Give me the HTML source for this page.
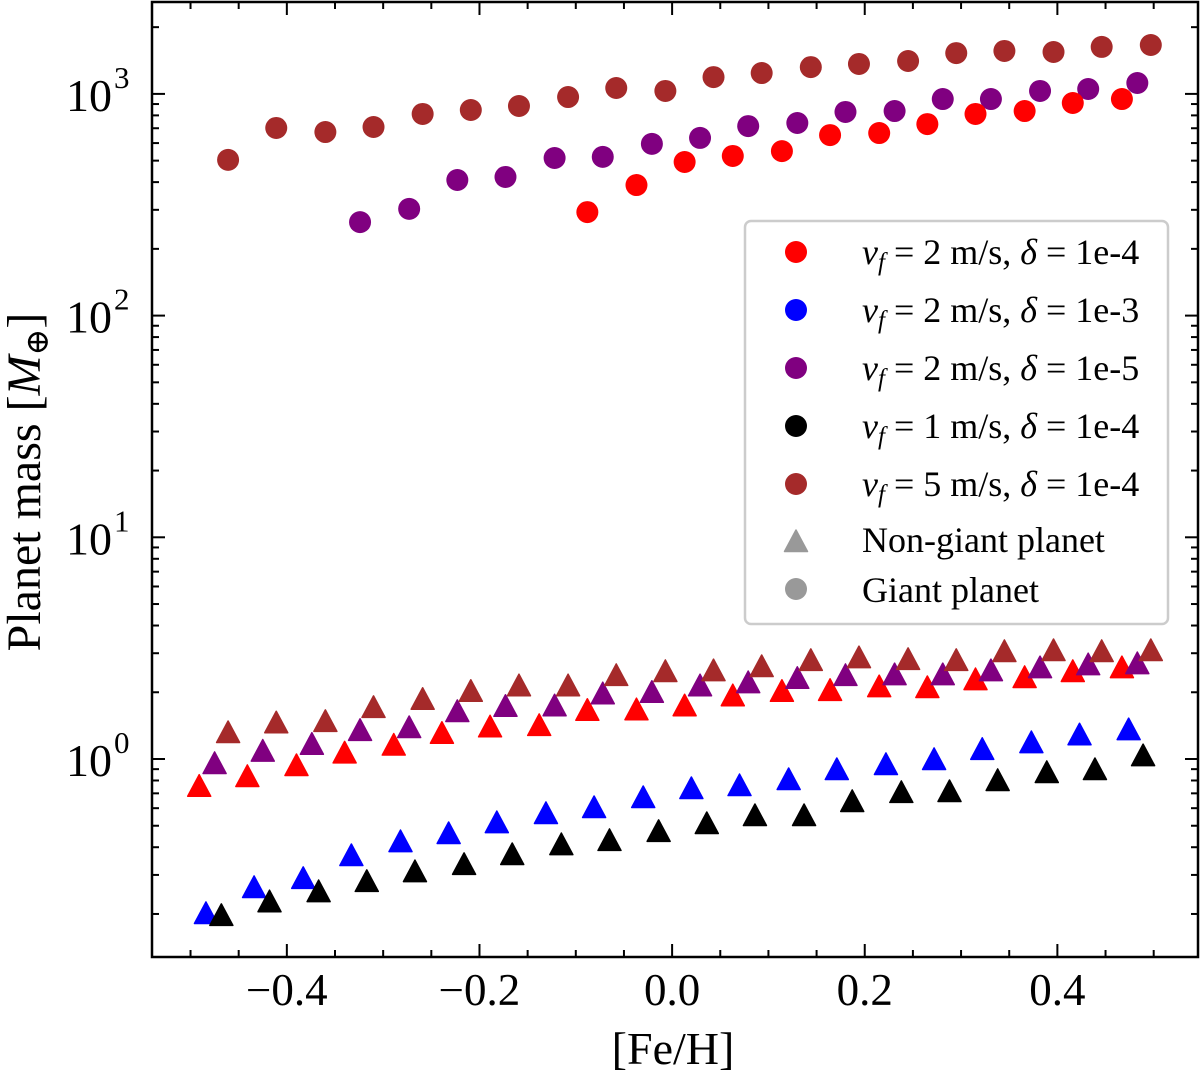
<!DOCTYPE html>
<html><head><meta charset="utf-8"><style>
html,body{margin:0;padding:0;background:#fff;}
svg{display:block;font-family:"Liberation Serif","DejaVu Serif",serif;}
</style></head><body>
<svg id="chart" width="1200" height="1075" viewBox="0 0 1200 1075" xmlns="http://www.w3.org/2000/svg">
<g id="marks"></g>
<g id="axes"></g>
<g id="legend"></g>
</svg>
<script>
const xTickValues = [-0.4, -0.2, 0.0, 0.2, 0.4];
const xTickLabels = ["\u22120.4", "\u22120.2", "0.0", "0.2", "0.4"];
const yTickExps = [0, 1, 2, 3];

const redTriX = [-0.491,-0.441,-0.390,-0.340,-0.289,-0.239,-0.189,-0.138,-0.088,-0.037,0.013,0.063,0.114,0.164,0.215,0.265,0.315,0.366,0.416,0.467];
const redTriY = [0.75,0.83,0.93,1.06,1.15,1.30,1.39,1.41,1.65,1.66,1.73,1.92,2.01,2.03,2.11,2.09,2.27,2.32,2.47,2.57];
const purpleTriX = [-0.475,-0.425,-0.374,-0.324,-0.273,-0.223,-0.173,-0.122,-0.072,-0.021,0.029,0.079,0.130,0.180,0.231,0.281,0.331,0.382,0.432,0.483];
const purpleTriY = [0.95,1.08,1.16,1.34,1.38,1.63,1.72,1.73,1.96,1.99,2.13,2.20,2.30,2.37,2.39,2.39,2.49,2.57,2.65,2.68];
const brownTriX = [-0.461,-0.411,-0.360,-0.310,-0.259,-0.209,-0.159,-0.108,-0.058,-0.007,0.043,0.093,0.144,0.194,0.245,0.295,0.345,0.396,0.446,0.497];
const brownTriY = [1.31,1.45,1.47,1.70,1.85,2.01,2.13,2.13,2.37,2.47,2.49,2.60,2.77,2.85,2.80,2.77,3.04,3.07,3.04,3.07];
const blueTriX = [-0.484,-0.434,-0.383,-0.333,-0.282,-0.232,-0.182,-0.131,-0.081,-0.030,0.020,0.070,0.121,0.171,0.222,0.272,0.322,0.373,0.423,0.474];
const blueTriY = [0.200,0.262,0.288,0.365,0.422,0.459,0.514,0.565,0.601,0.667,0.732,0.755,0.804,0.892,0.94,0.99,1.10,1.18,1.28,1.35];
const blackTriX = [-0.468,-0.418,-0.367,-0.317,-0.267,-0.216,-0.166,-0.115,-0.065,-0.014,0.036,0.086,0.137,0.187,0.238,0.288,0.338,0.389,0.439,0.489];
const blackTriY = [0.196,0.226,0.251,0.279,0.309,0.333,0.369,0.409,0.427,0.469,0.509,0.553,0.553,0.640,0.703,0.710,0.796,0.865,0.892,1.03];

const brownCircX = [-0.461,-0.411,-0.360,-0.310,-0.259,-0.209,-0.159,-0.108,-0.058,-0.007,0.043,0.093,0.144,0.194,0.245,0.295,0.345,0.396,0.446,0.497];
const brownCircY = [504,702,673,709,812,846,882,968,1063,1031,1191,1242,1321,1365,1407,1528,1562,1545,1629,1662];
const purpleCircX = [-0.324,-0.273,-0.223,-0.173,-0.122,-0.072,-0.021,0.029,0.079,0.130,0.180,0.231,0.281,0.331,0.382,0.432,0.483];
const purpleCircY = [264,303,409,422,514,520,595,633,716,739,829,837,948,948,1031,1052,1120];
const redCircX = [-0.088,-0.037,0.013,0.063,0.114,0.164,0.215,0.265,0.315,0.366,0.416,0.467];
const redCircY = [293,388,493,525,552,652,666,731,812,837,910,948];

const legendLabels = ["2 m/s, ","2 m/s, ","2 m/s, ","1 m/s, ","5 m/s, "];
const legendDeltas = ["1e-4","1e-3","1e-5","1e-4","1e-4"];

const L=152, R=1198, T=2, B=957;
const xMin=-0.54, xMax=0.546;
const yPerDec=221.7, yZeroPx=759;
function sx(v){return L+(v-xMin)/(xMax-xMin)*(R-L);}
function sy(v){return yZeroPx-Math.log10(v)*yPerDec;}
const NS="http://www.w3.org/2000/svg";
function mk(tag,attrs,parent){const e=document.createElementNS(NS,tag);for(const k in attrs)e.setAttribute(k,attrs[k]);parent.appendChild(e);return e;}
const marks=document.getElementById('marks');
const axes=document.getElementById('axes');
const legend=document.getElementById('legend');

function tri(cx,cy,col,parent){
  return mk('polygon',{points:`${cx},${cy-12} ${cx-11.5},${cy+9.5} ${cx+11.5},${cy+9.5}`,fill:col,stroke:col,'stroke-width':1.5,'stroke-linejoin':'round'},parent);
}
function drawTri(xs,ys,col,name){
  for(let i=0;i<xs.length;i++){
    const p=tri(sx(xs[i]),sy(ys[i]),col,marks);
    
    
  }
}
function drawCirc(xs,ys,col,name){
  for(let i=0;i<xs.length;i++){
    const c=mk('circle',{cx:sx(xs[i]),cy:sy(ys[i]),r:11,fill:col},marks);
    
    
  }
}
drawTri(redTriX,redTriY,'#ff0000','red-triangle-point');
drawTri(blueTriX,blueTriY,'#0000ff','blue-triangle-point');
drawTri(purpleTriX,purpleTriY,'#800080','purple-triangle-point');
drawTri(blackTriX,blackTriY,'#000000','black-triangle-point');
drawTri(brownTriX,brownTriY,'#a52a2a','brown-triangle-point');
drawCirc(brownCircX,brownCircY,'#a52a2a','brown-circle-point');
drawCirc(purpleCircX,purpleCircY,'#800080','purple-circle-point');
drawCirc(redCircX,redCircY,'#ff0000','red-circle-point');

const frame=mk('rect',{x:L,y:T,width:R-L,height:B-T,fill:'none',stroke:'#000','stroke-width':2.5},axes);


for(let k=-10; k<=10; k++){
  const v=k*0.05;
  const major = (k%4===0);
  const len = major?13:7, px=sx(v);
  mk('line',{x1:px,y1:B,x2:px,y2:B-len,stroke:'#000','stroke-width':2},axes);
  mk('line',{x1:px,y1:T,x2:px,y2:T+len,stroke:'#000','stroke-width':2},axes);
}
xTickValues.forEach((v,i)=>{
  const t=mk('text',{x:sx(v),y:1005,'font-size':45,'text-anchor':'middle'},axes);
  t.textContent=xTickLabels[i];
  
  
});
for(let d=-1; d<=3; d++){
  for(let m=1;m<=9;m++){
    const v=m*Math.pow(10,d); const py=sy(v);
    if(py<T||py>B) continue;
    const len=m===1?13:7;
    mk('line',{x1:L,y1:py,x2:L+len,y2:py,stroke:'#000','stroke-width':2},axes);
    mk('line',{x1:R,y1:py,x2:R-len,y2:py,stroke:'#000','stroke-width':2},axes);
  }
}
yTickExps.forEach(e=>{
  const py=sy(Math.pow(10,e));
  const t=mk('text',{x:66,y:py+17,'font-size':46},axes);
  t.textContent='10';
  
  
  const s=mk('text',{x:114,y:py-6,'font-size':31},axes);
  s.textContent=String(e);
});
const xt=mk('text',{x:673,y:1064,'font-size':46,'text-anchor':'middle'},axes);
xt.textContent='[Fe/H]';


const yt=mk('text',{x:0,y:0,'font-size':48,'text-anchor':'middle',transform:'translate(40,482) rotate(-90)'},axes);
yt.innerHTML='Planet mass [<tspan font-style="italic">M</tspan><tspan font-size="32" dy="8">\u2295</tspan><tspan dy="-8">]</tspan>';



const lb=mk('rect',{x:745,y:221,width:423,height:403,rx:6,fill:'#fff','fill-opacity':0.9,stroke:'#cccccc','stroke-width':2.5},legend);


const legCols=['#ff0000','#0000ff','#800080','#000000','#a52a2a'];
const rowY=[252,310,368,426,484];
legendLabels.forEach((lab,i)=>{
  const c=mk('circle',{cx:796,cy:rowY[i],r:11,fill:legCols[i]},legend);
  
  
  const t=mk('text',{x:862,y:rowY[i]+12,'font-size':36,'xml:space':'preserve'},legend);
  t.innerHTML='<tspan font-style="italic">v</tspan><tspan font-style="italic" font-size="25" dy="6">f</tspan><tspan dy="-6"> = '+lab+'</tspan><tspan font-style="italic">\u03b4</tspan> = '+legendDeltas[i];
  
  
});
const lt=tri(796,542,'#999999',legend);


const t6=mk('text',{x:862,y:552,'font-size':36},legend);
t6.textContent='Non-giant planet';


const lc=mk('circle',{cx:796,cy:589,r:11,fill:'#999999'},legend);


const t7=mk('text',{x:862,y:602,'font-size':36},legend);
t7.textContent='Giant planet';


</script>
</body></html>
